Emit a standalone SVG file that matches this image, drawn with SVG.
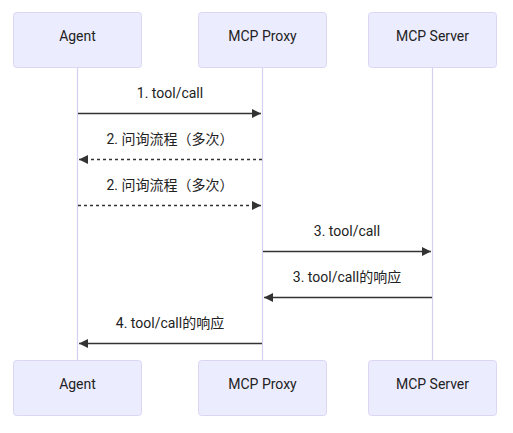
<svg xmlns="http://www.w3.org/2000/svg" width="513" height="433" viewBox="0 0 513 433">
<style>
.actor rect{fill:#ECECFF;stroke:#dcd6f3;stroke-width:1}
.actor text{font-family:"Roboto","Liberation Sans",sans-serif;font-size:14px;fill:#222;text-anchor:middle;dominant-baseline:central}
.life{stroke:#d6cff0;stroke-width:1.2}
.msg{stroke:#333;stroke-width:1.4;fill:none}
.dash{stroke-dasharray:3,3}
.lbl{font-family:"Roboto","Liberation Sans","Noto Sans CJK SC",sans-serif;font-size:14px;fill:#222;text-anchor:middle}
</style>
<defs>
<marker id="ah" viewBox="0 0 10 10" refX="10" refY="5" markerWidth="9" markerHeight="9" markerUnits="userSpaceOnUse" orient="auto">
<path d="M0,0L10,5L0,10z" fill="#333"/>
</marker>
</defs>
<rect width="513" height="433" fill="#fff"/>
<g id="lifelines">
<line class="life" x1="77.5" y1="67" x2="77.5" y2="360"/>
<line class="life" x1="262.5" y1="67" x2="262.5" y2="360"/>
<line class="life" x1="432.5" y1="67" x2="432.5" y2="360"/>
</g>
<g id="agent-top" class="actor"><rect x="13.5" y="12.5" width="128" height="55" rx="3"/><text x="77.5" y="36">Agent</text></g>
<g id="proxy-top" class="actor"><rect x="198.5" y="12.5" width="128" height="55" rx="3"/><text x="262.5" y="36">MCP Proxy</text></g>
<g id="server-top" class="actor"><rect x="368.5" y="12.5" width="128" height="55" rx="3"/><text x="432.5" y="36">MCP Server</text></g>
<g id="agent-bottom" class="actor"><rect x="13.5" y="360.5" width="128" height="55" rx="3"/><text x="77.5" y="384">Agent</text></g>
<g id="proxy-bottom" class="actor"><rect x="198.5" y="360.5" width="128" height="55" rx="3"/><text x="262.5" y="384">MCP Proxy</text></g>
<g id="server-bottom" class="actor"><rect x="368.5" y="360.5" width="128" height="55" rx="3"/><text x="432.5" y="384">MCP Server</text></g>
<g id="connectors">
<line class="msg" x1="78" y1="113.5" x2="261" y2="113.5" marker-end="url(#ah)"/>
<text class="lbl" x="170" y="98">1. tool/call</text>
<line class="msg dash" x1="262" y1="159.5" x2="79" y2="159.5" marker-end="url(#ah)"/>
<text class="lbl" x="170" y="144">2. 问询流程（多次）</text>
<line class="msg dash" x1="78" y1="205.5" x2="261" y2="205.5" marker-end="url(#ah)"/>
<text class="lbl" x="170" y="190">2. 问询流程（多次）</text>
<line class="msg" x1="263" y1="251.5" x2="431" y2="251.5" marker-end="url(#ah)"/>
<text class="lbl" x="347" y="236">3. tool/call</text>
<line class="msg" x1="432" y1="297.5" x2="264" y2="297.5" marker-end="url(#ah)"/>
<text class="lbl" x="347" y="282">3. tool/call的响应</text>
<line class="msg" x1="262" y1="343.5" x2="79" y2="343.5" marker-end="url(#ah)"/>
<text class="lbl" x="170" y="328">4. tool/call的响应</text>
</g>
</svg>
